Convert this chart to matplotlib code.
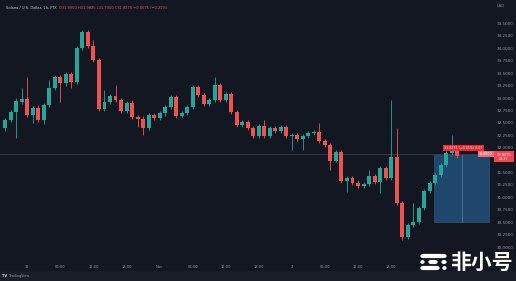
import matplotlib
matplotlib.use("Agg")
import matplotlib.pyplot as plt
from matplotlib.patches import Rectangle, FancyBboxPatch
import numpy as np

# ---- data (SOL/USD 1h candles) ----
opens = [32.40, 32.56, 32.72, 32.92, 32.98, 32.66, 32.80, 32.56, 32.86, 33.20,
         33.42, 33.30, 33.48, 33.32, 34.01, 34.33, 34.05, 33.77, 32.78, 32.92,
         33.04, 32.96, 32.74, 32.90, 32.62, 32.58, 32.40, 32.66, 32.60, 32.70,
         32.82, 33.02, 32.64, 32.70, 32.82, 33.22, 33.06, 32.88, 32.96, 33.26,
         32.96, 33.08, 32.72, 32.46, 32.52, 32.40, 32.24, 32.44, 32.24, 32.40,
         32.34, 32.42, 32.24, 32.26, 32.18, 32.24, 32.30, 32.32, 32.14, 32.05,
         31.73, 31.91, 31.33, 31.39, 31.29, 31.23, 31.27, 31.43, 31.31, 31.59,
         31.39, 31.81, 30.89, 30.20, 30.44, 30.50, 30.79, 31.13, 31.29, 31.45,
         31.65, 31.89, 32.02]
highs = [32.60, 32.76, 33.00, 33.20, 33.42, 32.84, 32.86, 32.90, 33.36, 33.46,
         33.46, 33.52, 33.52, 34.05, 34.37, 34.37, 34.17, 33.81, 33.16, 33.08,
         33.26, 33.00, 32.94, 32.96, 32.66, 32.64, 32.70, 32.70, 32.74, 32.86,
         33.06, 33.06, 32.74, 32.86, 33.26, 33.26, 33.10, 33.00, 33.42, 33.30,
         33.12, 33.12, 32.76, 32.56, 32.56, 32.44, 32.48, 32.56, 32.44, 32.44,
         32.46, 32.46, 32.30, 32.30, 32.28, 32.34, 32.36, 32.50, 32.18, 32.09,
         31.95, 31.95, 31.43, 31.43, 31.35, 31.31, 31.55, 31.47, 31.63, 31.63,
         32.96, 32.40, 30.93, 30.48, 30.89, 30.83, 31.17, 31.33, 31.49, 31.69,
         31.93, 32.26, 32.05]
lows = [32.34, 32.52, 32.20, 32.88, 32.62, 32.50, 32.52, 32.48, 32.82, 33.16,
        32.92, 33.24, 33.20, 33.28, 33.97, 34.01, 33.73, 32.74, 32.74, 32.88,
        32.92, 32.70, 32.70, 32.58, 32.42, 32.26, 32.36, 32.56, 32.56, 32.64,
        32.78, 32.60, 32.60, 32.66, 32.78, 33.02, 32.84, 32.84, 32.92, 32.92,
        32.92, 32.68, 32.42, 32.42, 32.36, 32.20, 32.20, 32.20, 32.20, 32.30,
        32.30, 32.20, 31.95, 32.14, 31.95, 32.20, 32.26, 32.09, 32.01, 31.55,
        31.71, 31.29, 31.11, 31.25, 31.19, 31.19, 31.23, 31.27, 31.09, 31.35,
        31.35, 30.85, 30.14, 30.16, 30.40, 30.46, 30.75, 31.09, 31.25, 31.41,
        31.61, 31.85, 31.79]
closes = [32.56, 32.72, 32.94, 32.98, 32.66, 32.80, 32.56, 32.86, 33.20, 33.42,
          33.30, 33.48, 33.32, 34.01, 34.33, 34.05, 33.77, 32.78, 32.92, 33.04,
          32.96, 32.74, 32.90, 32.62, 32.58, 32.40, 32.66, 32.60, 32.70, 32.82,
          33.02, 32.64, 32.70, 32.82, 33.22, 33.06, 32.88, 32.96, 33.26, 32.96,
          33.08, 32.72, 32.46, 32.52, 32.40, 32.24, 32.44, 32.24, 32.40, 32.34,
          32.42, 32.24, 32.26, 32.18, 32.24, 32.30, 32.32, 32.14, 32.05, 31.73,
          31.91, 31.33, 31.39, 31.29, 31.23, 31.27, 31.43, 31.31, 31.59, 31.39,
          31.81, 30.89, 30.20, 30.44, 30.50, 30.79, 31.13, 31.29, 31.45, 31.65,
          31.89, 32.02, 31.8275]

time_tick_pos = [4, 10, 16, 22, 28, 34, 40, 46, 52, 58, 64, 70]
time_tick_labels = ["31", "06:00", "12:00", "18:00", "Nov", "06:00", "12:00",
                    "18:00", "2", "06:00", "12:00", "18:00"]
price_ticks = [34.5, 34.25, 34.0, 33.75, 33.5, 33.25, 33.0, 32.75, 32.5, 32.25,
               32.0, 31.5, 31.25, 31.0, 30.75, 30.5, 30.25, 30.0]

header_title = "Solana / U.S. Dollar, 1h, FTX"
header_ohlc = "O31.8950 H31.9825 L31.7900 C31.8275 \u22120.0675 (\u22120.21%)"
last_price = closes[-1]
countdown = "29:37"
hline_price = 31.873
box_time = (77.8, 87.8)
box_price = (30.50, 31.85)
box_split = 82.85

# ---- style ----
BG = "#131722"
UP = "#26a69a"
DOWN = "#ef5350"
TXT = "#9598a1"
W, H = 516, 281

fig = plt.figure(figsize=(W / 100, H / 100), dpi=100, facecolor=BG)
ax = fig.add_axes([0, 24 / H, 490 / W, 257 / H], facecolor=BG)

x = np.arange(len(opens))
o = np.array(opens); c = np.array(closes)
hi = np.array(highs); lo = np.array(lows)
up = c >= o
cols = np.where(up, UP, DOWN)

ax.vlines(x, lo, hi, colors=cols, linewidth=0.6, zorder=3)
ax.bar(x, np.maximum(np.abs(c - o), 0.012), bottom=np.minimum(o, c), width=0.72,
       color=cols, linewidth=0, zorder=4)

ax.axhline(hline_price, color="#3b3f4b", linewidth=0.6, zorder=1)

# blue rectangle drawing
ax.add_patch(Rectangle((box_time[0], box_price[0]), box_time[1] - box_time[0],
                       box_price[1] - box_price[0], facecolor="#1f4a70",
                       edgecolor="#2a5a86", linewidth=0.5, alpha=0.95, zorder=2))
ax.plot([box_split, box_split], box_price, color="#5d7ea0", linewidth=0.5, zorder=2.5)

ax.set_xlim(-0.96, 87.95)
ax.set_ylim(29.80, 34.973)

ax.set_xticks(time_tick_pos)
ax.set_xticklabels(time_tick_labels)
ax.yaxis.tick_right()
ax.set_yticks(price_ticks)
ax.set_yticklabels([f"{v:.4f}" for v in price_ticks])
ax.tick_params(axis="x", length=0, pad=5.4, labelsize=2.6, labelcolor=TXT)
ax.tick_params(axis="y", length=0, pad=5.0, labelsize=3.0, labelcolor=TXT)
for s in ax.spines.values():
    s.set_visible(False)

# label on the rectangle
ax.text(83.1, 31.995, "31.8275 (\u22120.21%) 0.07", fontsize=2.3, color="white",
        ha="center", va="center", zorder=6,
        bbox=dict(boxstyle="square,pad=0.35", facecolor="#f0262f", edgecolor="none"))
ax.text(87.2, hline_price, "31.8600", fontsize=2.3, color="white", ha="center",
        va="center", zorder=6, clip_on=False,
        bbox=dict(boxstyle="square,pad=0.3", facecolor="#f07078", edgecolor="none"))


def fx(px):
    return px / W


def fy(py):
    return 1 - py / H


# current price label on the price scale
fig.patches.append(Rectangle((fx(494), fy(162)), 20 / W, 11 / H, transform=fig.transFigure,
                             facecolor="#f2454e", edgecolor="none", zorder=5))
fig.text(fx(504), fy(154.5), f"{last_price:.4f}", fontsize=2.6, color="white",
         ha="center", va="center", zorder=6)
fig.text(fx(504), fy(159.5), countdown, fontsize=2.3, color="white",
         ha="center", va="center", zorder=6)
fig.text(fx(497), fy(6), "USD", fontsize=2.6, color=TXT, ha="left", va="center")

# header
t1 = fig.text(fx(6), fy(8), header_title, fontsize=2.6, color="#c9ccd4",
              ha="left", va="center")
fig.text(fx(59), fy(8), header_ohlc, fontsize=2.6, color="#f0525a",
         ha="left", va="center")

# bottom strip
fig.patches.append(Rectangle((0, 0), 1, 10 / H, transform=fig.transFigure,
                             facecolor="#1a1e29", edgecolor="none", zorder=0))
fig.text(fx(2), fy(276), "TV", fontsize=2.6, color="#d1d4dc", weight="bold",
         ha="left", va="center")
fig.text(fx(9), fy(276), "TradingView", fontsize=2.4, color="#9598a1",
         ha="left", va="center")

# watermark 非小号
def bar(x0, x1, yc, h=4.2):
    fig.patches.append(FancyBboxPatch((fx(x0), fy(yc + h / 2)), (x1 - x0) / W, h / H,
                                      boxstyle="round,pad=0,rounding_size=0.006",
                                      transform=fig.transFigure, facecolor="white",
                                      edgecolor="none", zorder=7, mutation_aspect=W / H))

bar(420, 447, 256)
bar(420, 425, 262)
bar(428, 438, 262)
bar(441, 447, 262)
bar(420, 440, 268)
bar(442, 447, 268)
fig.text(fx(481), fy(262), "非小号", fontsize=15, color="white", weight="bold",
         family=["Noto Sans CJK SC", "DejaVu Sans"], ha="center", va="center", zorder=7)

fig.savefig("out.png", dpi=100, facecolor=BG)
